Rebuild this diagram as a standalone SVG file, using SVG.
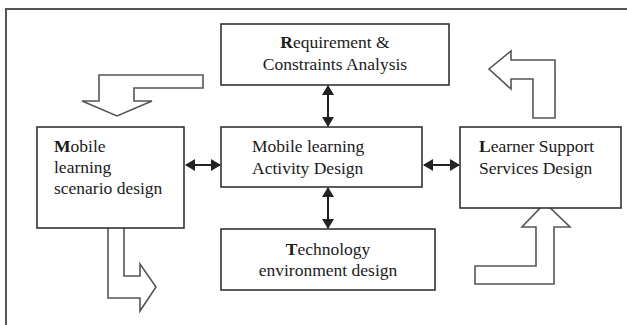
<svg xmlns="http://www.w3.org/2000/svg" width="627" height="325" viewBox="0 0 627 325">
  <style>
    .frame { fill: none; stroke: #555; stroke-width: 2; }
    .box { fill: #fff; stroke: #333; stroke-width: 1.6; }
    .flow { fill: none; stroke: #555; stroke-width: 1.6; stroke-linejoin: miter; }
    .link { stroke: #222; stroke-width: 2; }
    text { font-family: "Liberation Serif", "Times New Roman", serif; font-size: 17.5px; fill: #1a1a1a; }
    .c { text-anchor: middle; }
    .b { font-weight: bold; }
  </style>
  <defs>
    <marker id="head" viewBox="0 0 10 12" refX="9" refY="6" markerWidth="10" markerHeight="12" markerUnits="userSpaceOnUse" orient="auto-start-reverse">
      <path d="M0,0 L10,6 L0,12 Z" fill="#222"/>
    </marker>
  </defs>

  <rect width="627" height="325" fill="#fff"/>

  <!-- outer frame: top and left edges only -->
  <path class="frame" d="M6,325 V9 H627"/>

  <!-- hollow flow arrows around the cycle -->
  <g id="flow-arrows">
    <path class="flow" d="M203,75 H99 V101 H82 L117,116 L152,101 H134 V88 H203 Z"/>
    <path class="flow" d="M108,228 V298 H140 V311 L156,287 L140,264 V276 H124 V228"/>
    <path class="flow" d="M475,266 V284 H554 V227 H570 L545,203 L522,227 H536 V266 Z"/>
    <path class="flow" d="M555,118 V60 H511 V51 L489,69 L511,89 V79 H533 V118 Z"/>
  </g>

  <!-- double-headed connectors -->
  <g id="connectors">
    <line class="link" x1="328" y1="86" x2="328" y2="126" marker-start="url(#head)" marker-end="url(#head)"/>
    <line class="link" x1="328" y1="188" x2="328" y2="228" marker-start="url(#head)" marker-end="url(#head)"/>
    <line class="link" x1="186" y1="165" x2="220" y2="165" marker-start="url(#head)" marker-end="url(#head)"/>
    <line class="link" x1="424" y1="165" x2="459" y2="165" marker-start="url(#head)" marker-end="url(#head)"/>
  </g>

  <g id="requirement">
    <rect class="box" x="221" y="24" width="228" height="61"/>
    <text class="c" x="335" y="48"><tspan class="b">R</tspan>equirement &amp;</text>
    <text class="c" x="335" y="70">Constraints Analysis</text>
  </g>

  <g id="activity">
    <rect class="box" x="221" y="127" width="201" height="60"/>
    <text x="252" y="152">Mobile learning</text>
    <text x="252" y="174">Activity Design</text>
  </g>

  <g id="scenario">
    <rect class="box" x="37" y="127" width="147" height="101"/>
    <text x="54" y="152"><tspan class="b">M</tspan>obile</text>
    <text x="54" y="173">learning</text>
    <text x="54" y="194">scenario design</text>
  </g>

  <g id="support">
    <rect class="box" x="460" y="127" width="161" height="81"/>
    <text x="479" y="152"><tspan class="b">L</tspan>earner Support</text>
    <text x="479" y="174">Services Design</text>
  </g>

  <g id="technology">
    <rect class="box" x="221" y="229" width="214" height="61"/>
    <text class="c" x="328" y="255"><tspan class="b">T</tspan>echnology</text>
    <text class="c" x="328" y="276">environment design</text>
  </g>
</svg>
